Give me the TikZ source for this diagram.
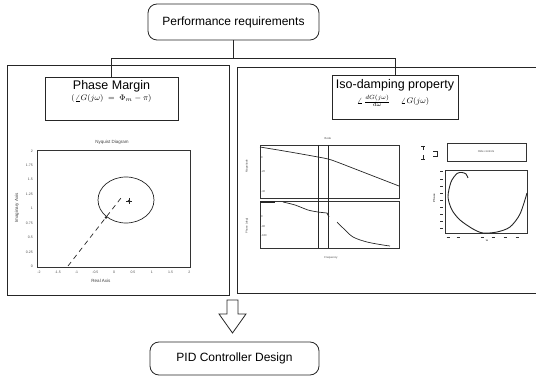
\documentclass[tikz,border=0pt]{standalone}
\usepackage{fontspec}
\setmainfont{Liberation Sans}
\usetikzlibrary{calc}
\begin{document}
\begin{tikzpicture}[x=1pt,y=-1pt,
  line/.style={draw=black!85, line width=0.8pt},
  roundbox/.style={line, rounded corners=9pt, inner sep=0pt,
    font=\fontsize{12}{14}\selectfont},
  titlebox/.style={line, inner sep=0pt},
  headtext/.style={inner sep=0pt, font=\fontsize{12.5}{14}\selectfont},
  formula/.style={inner sep=0pt, font=\fontsize{8}{9}\selectfont},
  axesbox/.style={draw=black!80, line width=0.6pt, inner sep=0pt},
  curve/.style={draw=black!85, line width=0.7pt},
  plotlabel/.style={inner sep=0pt, text=black!75, font=\fontsize{4.5}{5}\selectfont},
  ticklabel/.style={inner sep=0pt, text=black!70, font=\fontsize{3.5}{4}\selectfont},
  microlabel/.style={inner sep=0pt, text=black!70, font=\fontsize{2.8}{3}\selectfont},
]
\useasboundingbox (0,0) rectangle (536,379);

% ---------- top and bottom boxes ----------
\node[roundbox, minimum width=171pt, minimum height=36pt] (perf) at (233.5,22) {Performance requirements};
\node[roundbox, minimum width=169pt, minimum height=33pt] (pid) at (234.5,358.5) {PID Controller Design};

% ---------- the two requirement panels ----------
\draw[line] (7,65) rectangle (229,295);
\draw[line] (536,67) -- (237,67) -- (237,293) -- (536,293);

% requirement headings
\node[titlebox, minimum width=133pt, minimum height=43pt] (phase) at (111.5,98.5) {};
\node[headtext] (phaset) at (111.5,86) {Phase Margin};
\node[formula] (phasef) at (111.5,99) {$(\angle G(j\omega)\;=\;\Phi_m - \pi)$};

\node[titlebox, minimum width=126pt, minimum height=44pt] (iso) at (395,97) {};
\node[headtext] (isot) at (395,85) {Iso-damping property};
\node[formula] (isof) at (393,101) {$\angle\,\frac{dG(j\omega)}{d\omega}\quad\;\angle G(j\omega)$};

% tree from the top box to both headings
\coordinate (j) at (233.5,58);
\draw[line] (perf.south) -- (j);
\draw[line] (phase.north) -- (phase.north |- j) -- (iso.north |- j) -- (iso.north);

% hollow arrow down to the design box
\draw[line, line join=miter] (227,300) -- (238,300) -- (238,314) -- (246,314)
  -- (232.5,333) -- (219,314) -- (227,314) -- cycle;

% ---------- Nyquist diagram ----------
\node[axesbox, minimum width=153pt, minimum height=117pt] (nyq) at (113.5,208.5) {};
\node[plotlabel] (nyqtitle) at (112,142) {Nyquist Diagram};
\node[plotlabel, rotate=90] (nyqy) at (17,208) {Imaginary Axis};
\node[plotlabel] (nyqx) at (101,281) {Real Axis};
\foreach \v [count=\i from 0] in {2,1.75,1.5,1.25,1,0.75,0.5,0.25,0}
  \node[ticklabel, anchor=east] at (33,{151+\i*14.4}) {\v};
\foreach \v [count=\i from 0] in {-2,-1.5,-1,-0.5,0,0.5,1,1.5,2}
  \node[ticklabel] at ({39+\i*18.8},272) {\v};
\draw[curve] (126,200) ellipse [x radius=28pt, y radius=23pt];
\draw[curve, dash pattern=on 5pt off 4pt] (68,266) -- (121,198);
\fill[black!85] (106,217.5) circle (1.4pt);
\fill[black!85] (129,201) circle (1.4pt);
\draw[black!85, line width=0.5pt] (126,201) -- (132,201) (129,198) -- (129,204);

% ---------- Bode diagram ----------
\node[axesbox, minimum width=139pt, minimum height=53pt] (bodemag) at (329.5,171.5) {};
\node[axesbox, minimum width=139pt, minimum height=47pt] (bodeph) at (329.5,224.5) {};
\draw[black!85, line width=0.7pt] (318,145) -- (318,248) (328,145) -- (328,248);
\draw[curve] plot[smooth] coordinates {(260,147) (290,152) (318,157) (328,159) (337,162) (368,174) (399,186)};
\draw[curve, line width=1.2pt] (260,202) -- (275,202);
\draw[curve] plot[smooth] coordinates {(283,202) (295,205) (308,210) (318,212) (327,213)} -- (329,217);
\draw[curve] plot[smooth] coordinates {(337,222) (343,228) (353,237) (367,242) (383,245) (390,246)};
\node[microlabel] (bodetitle) at (328,139) {Bode};
\node[microlabel, rotate=90] (bodemy) at (247,166) {Magnitude};
\node[microlabel, rotate=90] (bodepy) at (247,226) {Phase (deg)};
\node[microlabel] (bodex) at (331,258) {Frequency};
\foreach \y/\t in {158/0, 172/-20, 192/-40}
  \node[microlabel, anchor=west] at (261,\y) {\t};
\foreach \y/\t in {217/0, 227/-90, 236/-180}
  \node[microlabel, anchor=west] at (261,\y) {\t};

% ---------- phase-derivative plot ----------
\node[axesbox, minimum width=79pt, minimum height=18pt, line width=0.5pt] (legend) at (486.5,152) {};
\node[microlabel] (legendt) at (486,152) {Hide controls};
\draw[black!85, line width=0.6pt] (421,146) -- (425,146) (423,146) -- (423,150)
  (421,159) -- (425,159) (423,155) -- (423,159)
  (433,151) -- (437,151) -- (437,156) -- (433,156);
\node[axesbox, minimum width=82pt, minimum height=63pt] (pdplot) at (486,201.5) {};
\draw[curve, line width=0.9pt] plot[smooth] coordinates {(468,178) (466,174) (462,172.5) (457,173.5) (451,182) (448,197) (452,210) (460,220) (473,229) (483,233) (497,232) (510,227) (520,214) (527,193)};
\foreach \y in {171,179,186,193,200,207,214,221,228}
  \draw[black!80, line width=0.9pt] (440,\y) -- (442.5,\y);
\foreach \x in {448,458,482,493,505,517}
  \draw[black!80, line width=0.9pt] (\x-1.5,237) -- (\x+1.5,237);
\node[microlabel, rotate=90, font=\bfseries\fontsize{2.8}{3}\selectfont] (pdy) at (434,198) {Phase};
\node[microlabel, font=\bfseries\fontsize{2.8}{3}\selectfont] (pdx) at (487,240.5) {w};
\end{tikzpicture}
\end{document}
